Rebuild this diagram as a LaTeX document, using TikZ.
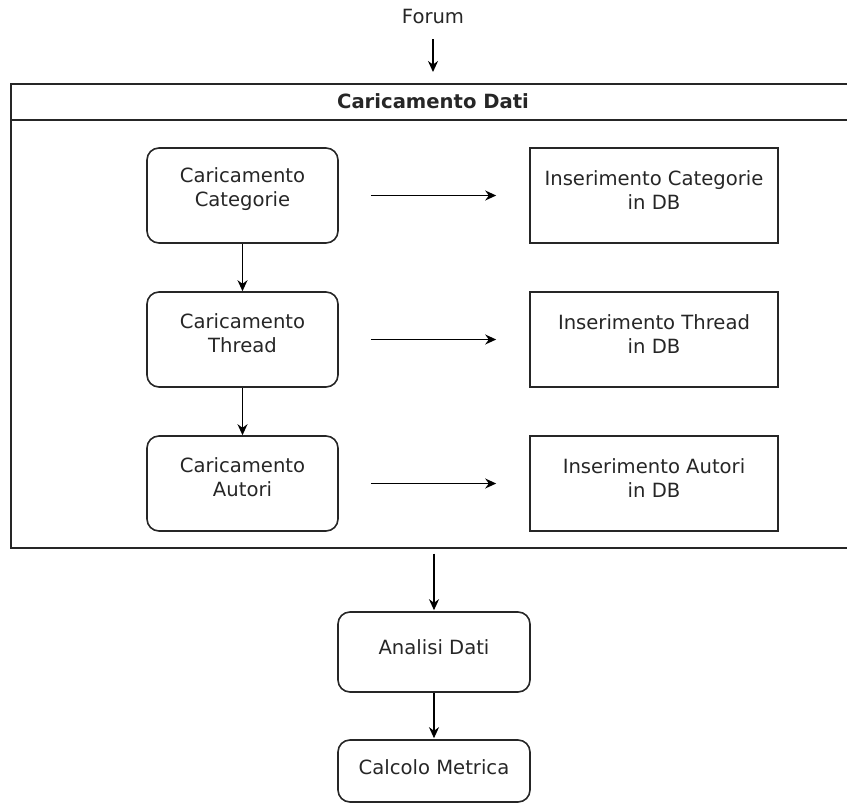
\documentclass[tikz,border=0pt]{standalone}
\usepackage{fontspec}
\setmainfont{DejaVu Sans}
\usetikzlibrary{arrows.meta}
\begin{document}
\begin{tikzpicture}[x=1pt,y=-1pt,
  every node/.style={font=\fontsize{19.6}{24}\selectfont, text=black!85},
  lbox/.style={draw=black!85, line width=1.6pt, rounded corners=12pt, minimum width=191pt, minimum height=95pt, inner sep=0pt},
  rbox/.style={draw=black!85, line width=1.6pt, minimum width=248pt, minimum height=95pt, inner sep=0pt},
  txt/.style={align=center, inner sep=0pt},
  arr/.style={draw=black, line width=1.5pt, -{Stealth[length=11pt,width=10pt]}}]
\useasboundingbox (0,0) rectangle (847,804);
% title and container
\node[txt] (forum) at (433,16) {Forum};
\node[draw=black!85, line width=1.6pt, anchor=north west, minimum width=840pt, minimum height=464pt, inner sep=0pt] (cont) at (10,83) {};
\coordinate (hl) at (10,120);
\coordinate (hr) at (850,120);
\draw[line width=1.6pt, draw=black!85] (hl) -- (hr);
\node[txt, font=\fontsize{19.6}{24}\selectfont\bfseries] (title) at (433,101.5) {Caricamento Dati};
\draw[arr, shorten <=16pt, shorten >=11pt] (forum.south) -- (forum.south |- cont.north);
% left column
\node[lbox] (c1) at (242.5,195.5) {};
\node[lbox] (c2) at (242.5,339.5) {};
\node[lbox] (c3) at (242.5,483.5) {};
\node[txt] (c1t) at ([yshift=6pt]c1.center) {Caricamento\\Categorie};
\node[txt] (c2t) at ([yshift=6pt]c2.center) {Caricamento\\Thread};
\node[txt] (c3t) at ([yshift=6pt]c3.center) {Caricamento\\Autori};
% right column
\node[rbox] (r1) at (654,195.5) {};
\node[rbox] (r2) at (654,339.5) {};
\node[rbox] (r3) at (654,483.5) {};
\node[txt] (r1t) at ([yshift=5pt]r1.center) {Inserimento Categorie\\in DB};
\node[txt] (r2t) at ([yshift=5pt]r2.center) {Inserimento Thread\\in DB};
\node[txt] (r3t) at ([yshift=5pt]r3.center) {Inserimento Autori\\in DB};
% arrows
\draw[arr] (c1.south) -- (c2.north);
\draw[arr] (c2.south) -- (c3.north);
\draw[arr, shorten <=32pt, shorten >=33pt] (c1.east) -- (r1.west);
\draw[arr, shorten <=32pt, shorten >=33pt] (c2.east) -- (r2.west);
\draw[arr, shorten <=32pt, shorten >=33pt] (c3.east) -- (r3.west);
% bottom
\node[lbox, minimum width=192pt, minimum height=80pt] (an) at (434,652) {};
\node[txt] (ant) at ([yshift=5pt]an.center) {Analisi Dati};
\node[lbox, minimum width=192pt, minimum height=62pt] (cm) at (434,771) {};
\node[txt] (cmt) at ([yshift=4pt]cm.center) {Calcolo Metrica};
\draw[arr, shorten <=5pt, shorten >=1pt] (an.north |- cont.south) -- (an.north);
\draw[arr, shorten >=1pt] (an.south) -- (cm.north);
\end{tikzpicture}
\end{document}
